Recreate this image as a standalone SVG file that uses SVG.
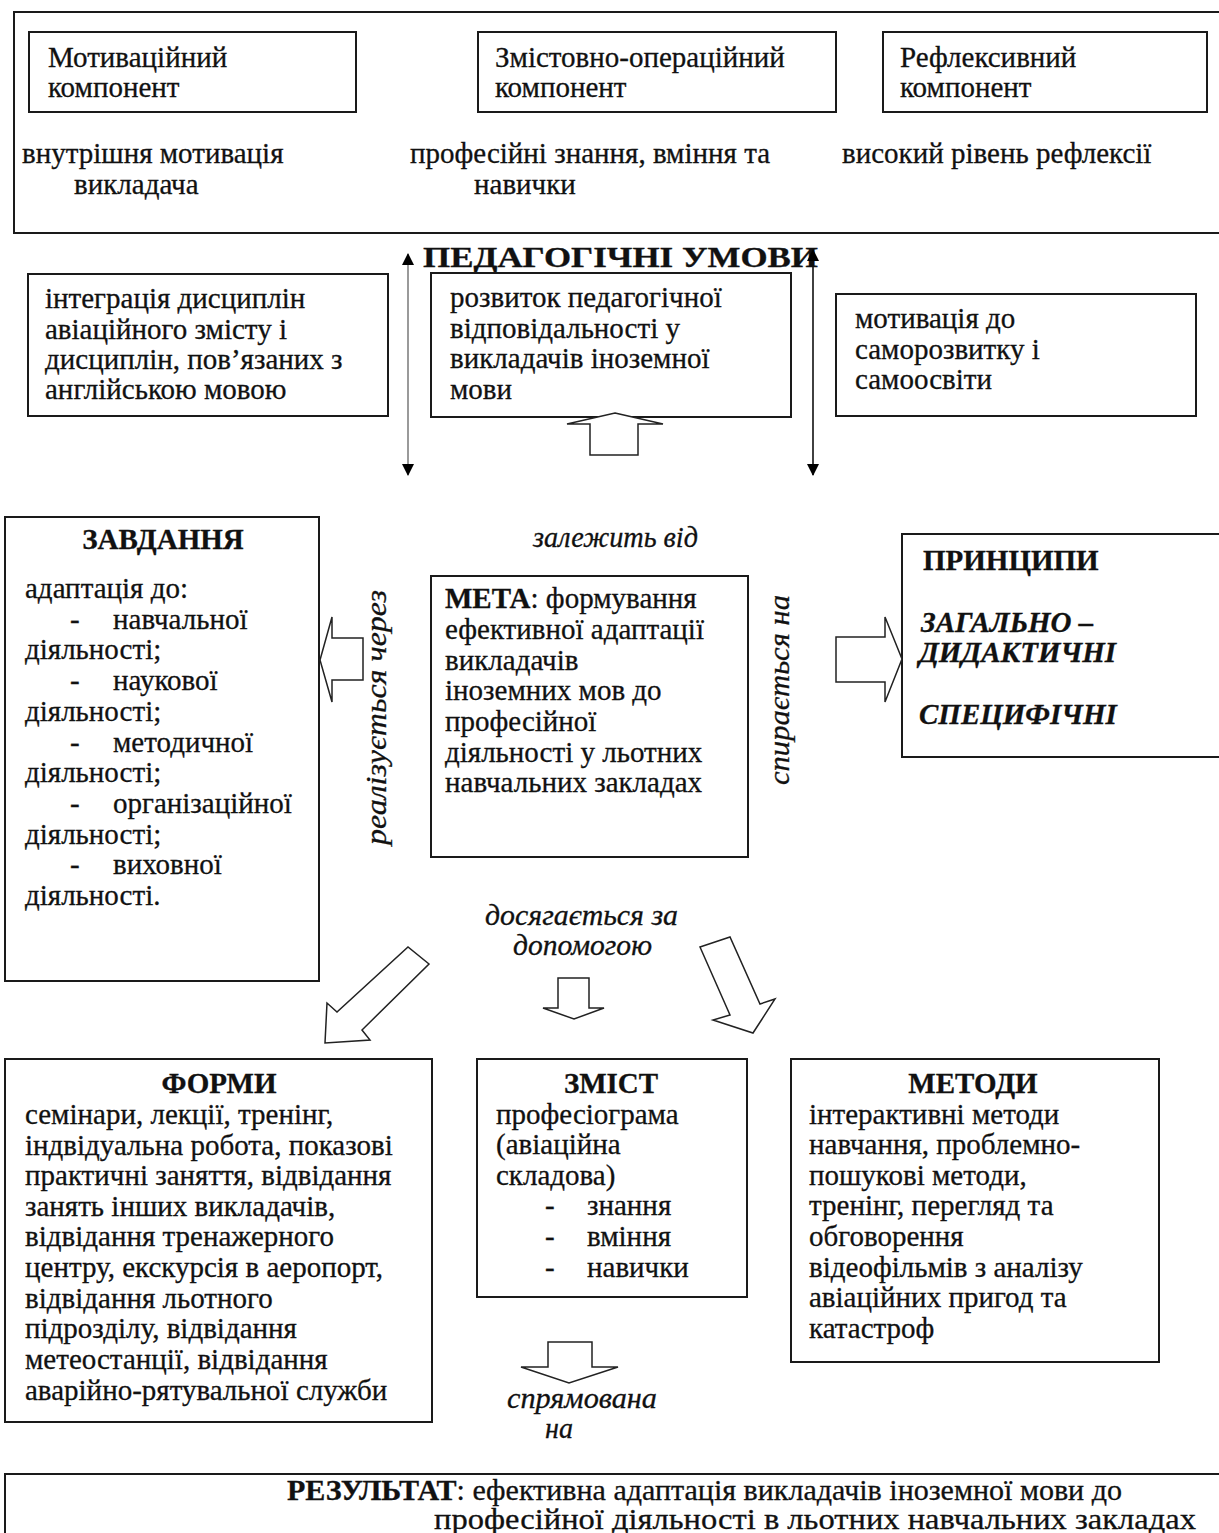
<svg xmlns="http://www.w3.org/2000/svg" width="1219" height="1533" viewBox="0 0 1219 1533">
<style>
.box{fill:#fff;stroke:#1a1a1a;stroke-width:2}
.t{font-family:"Liberation Serif","Times New Roman",serif;font-size:29px;fill:#111;stroke:#111;stroke-width:0.3}
.b{font-weight:bold}
.i{font-style:italic}
.c{text-anchor:middle}
.blk{fill:#fff;stroke:#222;stroke-width:1.5;stroke-linejoin:miter}
</style>
<defs>
<marker id="ah" viewBox="0 0 12 12" refX="11" refY="6" markerWidth="12" markerHeight="12" markerUnits="userSpaceOnUse" orient="auto-start-reverse">
<path d="M0,0 L12,6 L0,12 z" fill="#000"/>
</marker>
</defs>
<rect width="1219" height="1533" fill="#fff"/>

<g id="components">
<rect class="box" x="14" y="12" width="1215" height="221"/>
<g id="motiv-comp">
<rect class="box" x="29" y="32" width="327" height="80"/>
<text class="t" x="48" y="67">Мотиваційний</text>
<text class="t" x="48" y="97">компонент</text>
</g>
<g id="zmist-comp">
<rect class="box" x="478" y="32" width="358" height="80"/>
<text class="t" x="495" y="67">Змістовно-операційний</text>
<text class="t" x="495" y="97">компонент</text>
</g>
<g id="refl-comp">
<rect class="box" x="883" y="32" width="324" height="80"/>
<text class="t" x="900" y="67">Рефлексивний</text>
<text class="t" x="900" y="97">компонент</text>
</g>
<text class="t" x="22" y="163">внутрішня мотивація</text>
<text class="t" x="74" y="194">викладача</text>
<text class="t" x="410" y="163">професійні знання, вміння та</text>
<text class="t" x="474" y="194">навички</text>
<text class="t" x="842" y="163">високий рівень рефлексії</text>
</g>

<g id="ped-umovy">
<text class="t b" x="423" y="267" font-size="33" textLength="395" lengthAdjust="spacingAndGlyphs">ПЕДАГОГІЧНІ УМОВИ</text>
</g>

<g id="umova1">
<rect class="box" x="28" y="274" width="360" height="142"/>
<text class="t" x="45" y="308">інтеграція дисциплін</text>
<text class="t" x="45" y="339">авіаційного змісту і</text>
<text class="t" x="45" y="369">дисциплін, пов’язаних з</text>
<text class="t" x="45" y="399">англійською мовою</text>
</g>
<g id="umova2">
<rect class="box" x="431" y="273" width="360" height="144"/>
<text class="t" x="450" y="307">розвиток педагогічної</text>
<text class="t" x="450" y="338">відповідальності у</text>
<text class="t" x="450" y="368">викладачів іноземної</text>
<text class="t" x="450" y="399">мови</text>
</g>
<g id="umova3">
<rect class="box" x="836" y="294" width="360" height="122"/>
<text class="t" x="855" y="328">мотивація до</text>
<text class="t" x="855" y="359">саморозвитку і</text>
<text class="t" x="855" y="389">самоосвіти</text>
</g>

<g id="zavdannya">
<rect class="box" x="5" y="517" width="314" height="464"/>
<text class="t b c" x="163" y="549">ЗАВДАННЯ</text>
<text class="t" x="25" y="598">адаптація до:</text>
<text class="t" x="70" y="629">-</text><text class="t" x="113" y="629">навчальної</text>
<text class="t" x="25" y="659">діяльності;</text>
<text class="t" x="70" y="690">-</text><text class="t" x="113" y="690">наукової</text>
<text class="t" x="25" y="721">діяльності;</text>
<text class="t" x="70" y="752">-</text><text class="t" x="113" y="752">методичної</text>
<text class="t" x="25" y="782">діяльності;</text>
<text class="t" x="70" y="813">-</text><text class="t" x="113" y="813">організаційної</text>
<text class="t" x="25" y="844">діяльності;</text>
<text class="t" x="70" y="874">-</text><text class="t" x="113" y="874">виховної</text>
<text class="t" x="25" y="905">діяльності.</text>
</g>

<g id="meta">
<rect class="box" x="431" y="576" width="317" height="281"/>
<text class="t" x="445" y="608"><tspan class="b">МЕТА</tspan>: формування</text>
<text class="t" x="445" y="639">ефективної адаптації</text>
<text class="t" x="445" y="670">викладачів</text>
<text class="t" x="445" y="700">іноземних мов до</text>
<text class="t" x="445" y="731">професійної</text>
<text class="t" x="445" y="762">діяльності у льотних</text>
<text class="t" x="445" y="792">навчальних закладах</text>
</g>

<g id="pryntsypy">
<rect class="box" x="902" y="534" width="320" height="223"/>
<text class="t b" x="923" y="570">ПРИНЦИПИ</text>
<text class="t b i" x="921" y="632">ЗАГАЛЬНО –</text>
<text class="t b i" x="919" y="662">ДИДАКТИЧНІ</text>
<text class="t b i" x="919" y="724">СПЕЦИФІЧНІ</text>
</g>

<g id="formy">
<rect class="box" x="5" y="1059" width="427" height="363"/>
<text class="t b c" x="219" y="1093">ФОРМИ</text>
<text class="t" x="25" y="1124">семінари, лекції, тренінг,</text>
<text class="t" x="25" y="1155">індвідуальна робота, показові</text>
<text class="t" x="25" y="1185">практичні заняття, відвідання</text>
<text class="t" x="25" y="1216">занять інших викладачів,</text>
<text class="t" x="25" y="1246">відвідання тренажерного</text>
<text class="t" x="25" y="1277">центру, екскурсія в аеропорт,</text>
<text class="t" x="25" y="1308">відвідання льотного</text>
<text class="t" x="25" y="1338">підрозділу, відвідання</text>
<text class="t" x="25" y="1369">метеостанції, відвідання</text>
<text class="t" x="25" y="1400">аварійно-рятувальної служби</text>
</g>

<g id="zmist">
<rect class="box" x="477" y="1059" width="270" height="238"/>
<text class="t b c" x="611" y="1093">ЗМІСТ</text>
<text class="t" x="496" y="1124">професіограма</text>
<text class="t" x="496" y="1154">(авіаційна</text>
<text class="t" x="496" y="1185">складова)</text>
<text class="t" x="545" y="1215">-</text><text class="t" x="587" y="1215">знання</text>
<text class="t" x="545" y="1246">-</text><text class="t" x="587" y="1246">вміння</text>
<text class="t" x="545" y="1277">-</text><text class="t" x="587" y="1277">навички</text>
</g>

<g id="metody">
<rect class="box" x="791" y="1059" width="368" height="303"/>
<text class="t b c" x="973" y="1093">МЕТОДИ</text>
<text class="t" x="809" y="1124">інтерактивні методи</text>
<text class="t" x="809" y="1154">навчання, проблемно-</text>
<text class="t" x="809" y="1185">пошукові методи,</text>
<text class="t" x="809" y="1215">тренінг, перегляд та</text>
<text class="t" x="809" y="1246">обговорення</text>
<text class="t" x="809" y="1277">відеофільмів з аналізу</text>
<text class="t" x="809" y="1307">авіаційних пригод та</text>
<text class="t" x="809" y="1338">катастроф</text>
</g>

<g id="rezultat">
<rect class="box" x="5" y="1474" width="1220" height="80"/>
<text class="t" x="287" y="1500" font-size="25" textLength="835" lengthAdjust="spacingAndGlyphs"><tspan class="b">РЕЗУЛЬТАТ</tspan>: ефективна адаптація викладачів іноземної мови до</text>
<text class="t" x="434" y="1529" font-size="25" textLength="762" lengthAdjust="spacingAndGlyphs">професійної діяльності в льотних навчальних закладах</text>
</g>

<g id="connectors">
<line x1="408" y1="254" x2="408" y2="475" stroke="#9a9a9a" stroke-width="2" marker-start="url(#ah)" marker-end="url(#ah)"/>
<line x1="813" y1="250" x2="813" y2="475" stroke="#111" stroke-width="1.6" marker-start="url(#ah)" marker-end="url(#ah)"/>
<polygon class="blk" points="615,413 663,424 638,424 638,455 590,455 590,424 567,424"/>
<polygon class="blk" points="320,660 332,617 332,638 363,638 363,680 332,680 332,702"/>
<polygon class="blk" points="836,637 885,637 885,617 902,659 885,702 885,682 836,682"/>
<polygon class="blk" points="558,978 589,978 589,1008 604,1008 574,1019 543,1008 558,1008"/>
<polygon class="blk" points="325,1043 327,1003 337,1012 408,947 429,964 362,1030 370,1040"/>
<polygon class="blk" points="700,947 730,937 760,1004 775,999 753,1033 713,1020 730,1015"/>
<polygon class="blk" points="548,1342 592,1342 592,1367 618,1367 569,1383 521,1367 548,1367"/>
<text class="t i" x="533" y="547" font-size="26" textLength="165" lengthAdjust="spacingAndGlyphs">залежить від</text>
<text class="t i" font-size="27" transform="translate(386,845) rotate(-90)" textLength="255" lengthAdjust="spacingAndGlyphs">реалізується через</text>
<text class="t i" font-size="27" transform="translate(789,785) rotate(-90)" textLength="190" lengthAdjust="spacingAndGlyphs">спирається на</text>
<text class="t i" x="485" y="925" font-size="26" textLength="193" lengthAdjust="spacingAndGlyphs">досягається за</text>
<text class="t i" x="513" y="955" font-size="26" textLength="139" lengthAdjust="spacingAndGlyphs">допомогою</text>
<text class="t i" x="507" y="1408" font-size="26" textLength="150" lengthAdjust="spacingAndGlyphs">спрямована</text>
<text class="t i" x="545" y="1438" font-size="26" textLength="28" lengthAdjust="spacingAndGlyphs">на</text>
</g>
</svg>
